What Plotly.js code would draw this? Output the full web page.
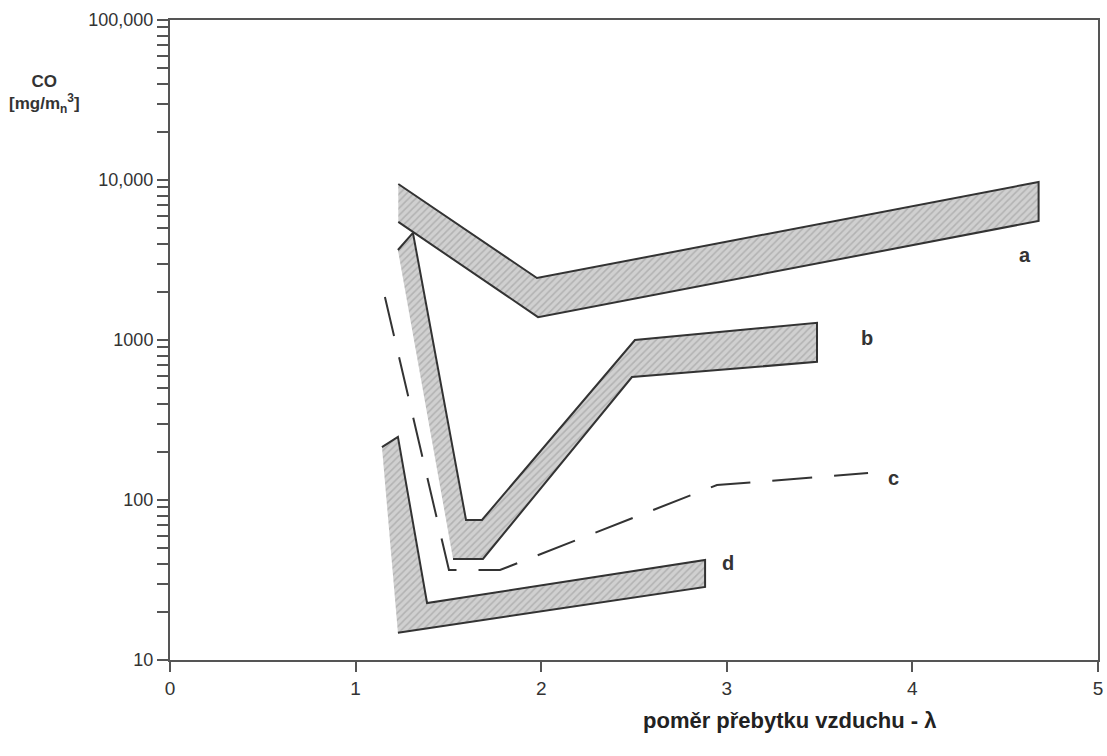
<!DOCTYPE html>
<html><head><meta charset="utf-8">
<script src="https://cdn.plot.ly/plotly-3.0.1.min.js"></script>
<style>body{margin:0;background:#fff}#chart{width:1107px;height:756px}</style>
</head><body><div id="chart"></div>
<script>
// Band a
const bandA_x = [1.23, 1.977, 4.68, 4.68, 1.983, 1.23];
const bandA_y = [9440, 2440, 9720, 5550, 1390, 5470];
// Band b
const bandB_x = [1.228, 1.309, 1.595, 1.681, 2.505, 3.486, 3.486, 2.489, 1.686, 1.525];
const bandB_y = [3650, 4670, 75, 75, 1000, 1280, 730, 587, 42.8, 42.8];
// Band d
const bandD_x = [1.142, 1.228, 1.385, 2.883, 2.883, 1.228];
const bandD_y = [214, 248, 22.7, 42.2, 28.6, 14.8];
// Dashed curve c
const lineC_x = [1.158, 1.503, 1.778, 2.947, 3.761];
const lineC_y = [1857, 36.5, 36.5, 124, 147.5];
// Curve labels
const curveLabels = ['a', 'b', 'c', 'd'];
const labelX = [4.607, 3.755, 3.896, 3.006];
const labelY = [3400, 1029, 137, 40.4];
// Ticks
const xTickVals = [0, 1, 2, 3, 4, 5];
const yTickVals = [10, 100, 1000, 10000, 100000];
const yTickText = ['10', '100', '1000', '10,000', '100,000'];
const yMinorVals = [20, 30, 40, 50, 60, 70, 80, 90,
  200, 300, 400, 500, 600, 700, 800, 900,
  2000, 3000, 4000, 5000, 6000, 7000, 8000, 9000,
  20000, 30000, 40000, 50000, 60000, 70000, 80000, 90000];

// all y ticks: labelled decades plus unlabelled minor ticks
const yAllVals = yTickVals.concat(yMinorVals);
const yAllText = yTickText.concat(yMinorVals.map(() => ''));

const FONT = 'Liberation Sans, Arial, sans-serif';
const pattern = {shape: '/', bgcolor: '#d0d0d0', fgcolor: '#b2b2b2', size: 5, solidity: 0.3};
const edge = {color: '#333333', width: 2};

function band(xs, ys) {
  return {x: xs, y: ys, type: 'scatter', mode: 'lines', fill: 'toself',
    fillcolor: '#d0d0d0', fillpattern: pattern, line: edge, hoverinfo: 'skip'};
}

const traces = [
  band(bandA_x, bandA_y),
  band(bandB_x, bandB_y),
  band(bandD_x, bandD_y),
  {x: lineC_x, y: lineC_y, type: 'scatter', mode: 'lines',
   line: {color: '#333333', width: 2, dash: '40px,22px'}, hoverinfo: 'skip'}
];

const annotations = curveLabels.map((t, i) => ({
  x: labelX[i], y: Math.log10(labelY[i]), xref: 'x', yref: 'y', text: '<b>' + t + '</b>',
  showarrow: false, font: {family: FONT, size: 20, color: '#333'}
}));
annotations.push({
  xref: 'paper', yref: 'paper', x: -0.135, y: 0.885, xanchor: 'center', yanchor: 'middle',
  text: '<b>CO</b><br><b>[mg/m<sub>n</sub><sup>3</sup>]</b>', showarrow: false,
  font: {family: FONT, size: 17, color: '#333'}
});
annotations.push({
  xref: 'paper', yref: 'paper', x: 0.668, y: -0.094, xanchor: 'center', yanchor: 'middle',
  text: '<b>poměr přebytku vzduchu - λ</b>', showarrow: false,
  font: {family: FONT, size: 22, color: '#222'}
});

const layout = {
  width: 1107, height: 756,
  margin: {l: 170, r: 9, t: 20, b: 96},
  paper_bgcolor: '#ffffff', plot_bgcolor: '#ffffff',
  showlegend: false,
  font: {family: FONT, size: 18, color: '#333'},
  xaxis: {
    range: [0, 5], tickmode: 'array', tickvals: xTickVals,
    ticks: 'outside', ticklen: 10, tickwidth: 2, tickcolor: '#555',
    showline: true, linecolor: '#555', linewidth: 2, mirror: true,
    showgrid: false, zeroline: false,
    tickfont: {family: FONT, size: 19, color: '#333'}
  },
  yaxis: {
    type: 'log', range: [1, 5], tickmode: 'array', tickvals: yAllVals, ticktext: yAllText,
    ticks: 'outside', ticklen: 11, tickwidth: 2, tickcolor: '#555',
    showline: true, linecolor: '#555', linewidth: 2, mirror: true,
    showgrid: false, zeroline: false,
    tickfont: {family: FONT, size: 18, color: '#333'}
  },
  annotations: annotations
};

Plotly.newPlot('chart', traces, layout, {staticPlot: true, displayModeBar: false});
</script>
</body></html>
